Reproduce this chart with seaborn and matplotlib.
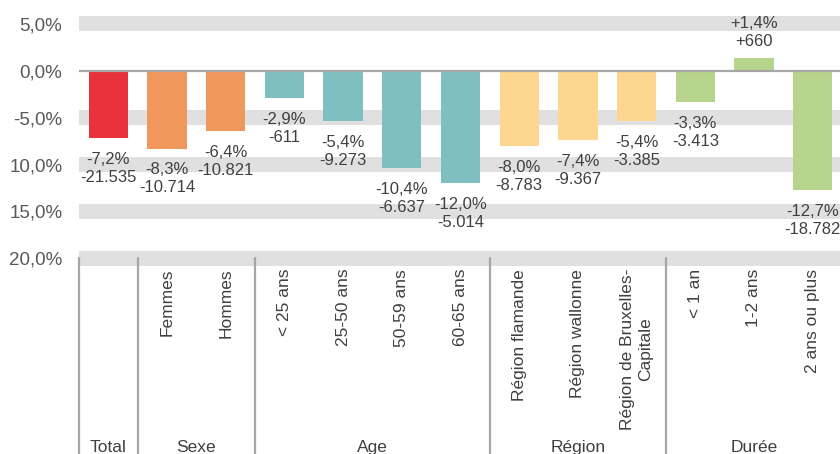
import numpy as np
import pandas as pd
import matplotlib
matplotlib.use("Agg")
import matplotlib.pyplot as plt
import matplotlib.transforms as mtransforms
from matplotlib.lines import Line2D
import seaborn as sns

# -----------------------------
# Data
# -----------------------------
categories = ["Total", "Femmes", "Hommes", "< 25 ans", "25-50 ans", "50-59 ans",
              "60-65 ans", "Région flamande", "Région wallonne",
              "Région de Bruxelles-\nCapitale", "< 1 an", "1-2 ans", "2 ans ou plus"]
# the "Total" bar has no own tick label, only the group name below
xtick_labels = [""] + categories[1:]
values = [-7.2, -8.3, -6.4, -2.9, -5.4, -10.4, -12.0, -8.0, -7.4, -5.4, -3.3, 1.4, -12.7]
counts = [-21535, -10714, -10821, -611, -9273, -6637, -5014, -8783, -9367, -3385, -3413, 660, -18782]
groups = ["Total", "Sexe", "Age", "Région", "Durée"]
group_sizes = [1, 2, 4, 3, 3]
group_colors = ["#E8313A", "#F0975C", "#80BFBF", "#FDD68F", "#B6D48B"]
ytick_vals = [5, 0, -5, -10, -15, -20]
ytick_labels = ["5,0%", "0,0%", "-5,0%", "10,0%", "15,0%", "20,0%"]

# -----------------------------
# Styling
# -----------------------------
TEXT = "#404040"
AXIS_TEXT = "#595959"
BAND = "#E0E0E0"
LINE = "#A6A6A6"

sns.set_style("white")
plt.rcParams["font.family"] = ["Liberation Sans", "DejaVu Sans"]

colors = [c for c, n in zip(group_colors, group_sizes) for _ in range(n)]
df = pd.DataFrame({"cat": categories, "val": values})


def fmt_pct(v):
    s = f"{abs(v):.1f}".replace(".", ",") + "%"
    return ("+" if v > 0 else "-") + s


def fmt_count(c):
    s = f"{abs(c):,}".replace(",", ".")
    return ("+" if c > 0 else "-") + s


fig = plt.figure(figsize=(8.4, 4.54), dpi=100)
ax = fig.add_axes([79 / 840, 1 - 266 / 454, 763 / 840, 266 / 454])

# grey bands behind the gridlines
for y in ytick_vals:
    if y != 0:
        ax.axhspan(y - 0.8, y + 0.8, color=BAND, lw=0, zorder=0)

sns.barplot(data=df, x="cat", y="val", hue="cat", palette=colors, width=0.67,
            legend=False, saturation=1, linewidth=0, edgecolor="none",
            ax=ax, zorder=2)
ax.axhline(0, color=LINE, lw=1.6, zorder=3)

ax.set_xlim(-0.5, len(categories) - 0.5)
ax.set_ylim(-20.82, 7.54)
ax.set_yticks(ytick_vals)
ax.set_yticklabels(ytick_labels, fontsize=13.5, color=AXIS_TEXT)
ax.tick_params(axis="y", length=0, pad=12)
ax.tick_params(axis="x", length=0, pad=2)
ax.set_xticks(range(len(categories)))
ax.set_xticklabels(xtick_labels, rotation=90, fontsize=12.5, color=TEXT,
                   va="top", ha="center")
ax.set_xlabel("")
ax.set_ylabel("")
for s in ax.spines.values():
    s.set_visible(False)

# value labels
for i, (v, c) in enumerate(zip(values, counts)):
    label = fmt_pct(v) + "\n" + fmt_count(c)
    if v < 0:
        ax.annotate(label, (i, v), xytext=(0, -10), textcoords="offset points",
                    ha="center", va="top", fontsize=12, color=TEXT, linespacing=1.25)
    else:
        ax.annotate(label, (i, v), xytext=(0, 6), textcoords="offset points",
                    ha="center", va="bottom", fontsize=12, color=TEXT, linespacing=1.25)

# group separators and group names
trans = mtransforms.blended_transform_factory(ax.transData, fig.transFigure)
bounds = np.cumsum([0] + group_sizes) - 0.5
for b in bounds[:-1]:
    fig.add_artist(Line2D([b, b], [0, 1 - 258 / 454], transform=trans,
                          color=LINE, lw=1.6))
for g, lo, hi in zip(groups, bounds[:-1], bounds[1:]):
    fig.text((lo + hi) / 2, 2 / 454, g, transform=trans, ha="center",
             va="baseline", fontsize=12.5, color=TEXT)

fig.savefig("out.png", dpi=100)
